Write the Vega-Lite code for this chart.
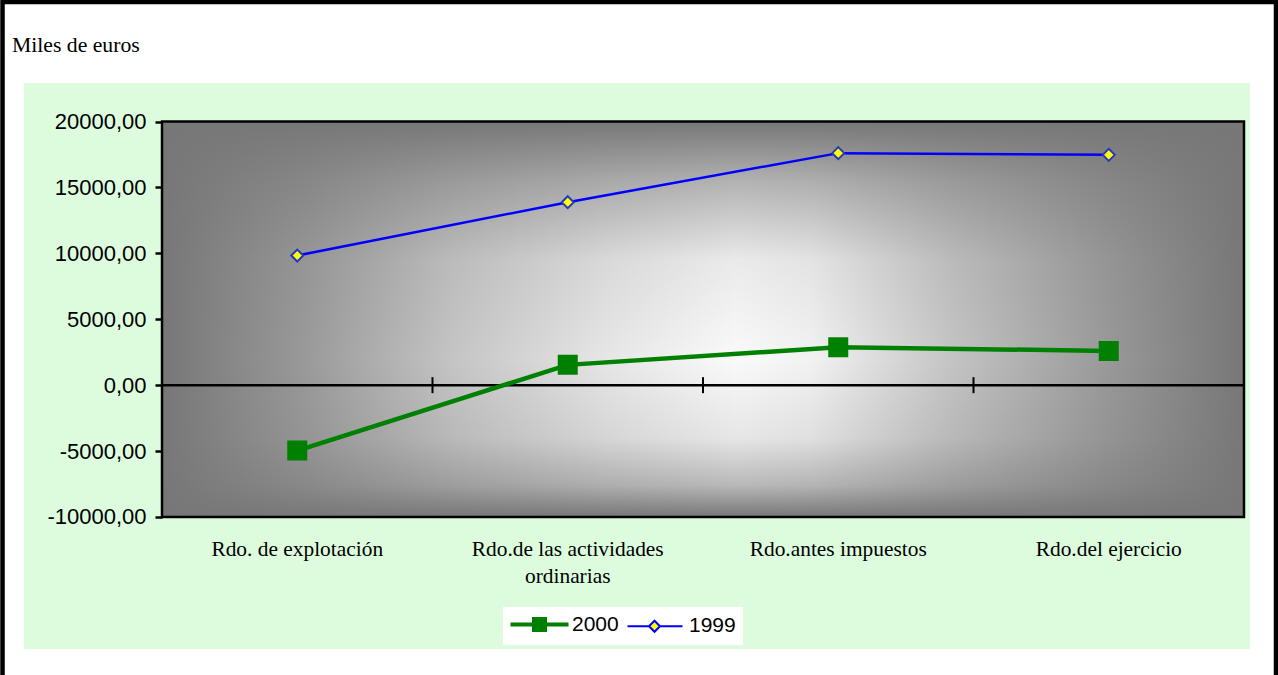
{
  "$schema": "https://vega.github.io/schema/vega-lite/v6.json",
  "width": 1226,
  "height": 566,
  "autosize": {"type": "none"},
  "padding": {"left": 24, "top": 83, "right": 28, "bottom": 26},
  "background": "#ffffff",
  "title": {"text": "Miles de euros", "anchor": "start", "frame": "group", "dx": -12, "dy": 104, "offset": 30, "baseline": "alphabetic", "font": "Liberation Serif", "fontSize": 21.7, "fontWeight": "normal", "color": "#000000"},
  "data": {"values": [
    {"categoria": "Rdo. de explotación", "serie": "2000", "valor": -4960},
    {"categoria": "Rdo.de las actividades ordinarias", "serie": "2000", "valor": 1540},
    {"categoria": "Rdo.antes impuestos", "serie": "2000", "valor": 2880},
    {"categoria": "Rdo.del ejercicio", "serie": "2000", "valor": 2600},
    {"categoria": "Rdo. de explotación", "serie": "1999", "valor": 9830},
    {"categoria": "Rdo.de las actividades ordinarias", "serie": "1999", "valor": 13880},
    {"categoria": "Rdo.antes impuestos", "serie": "1999", "valor": 17600},
    {"categoria": "Rdo.del ejercicio", "serie": "1999", "valor": 17470}
  ]},
  "layer": [
    {
      "data": {"values": [{}]},
      "layer": [
        {
          "mark": {"type": "rect", "filled": false, "stroke": "#000000", "strokeWidth": 4.5},
          "encoding": {
            "x": {"datum": -1.0896, "type": "quantitative", "scale": {"domain": [-1.0102, 3.5222], "nice": false, "zero": false}, "axis": null},
            "x2": {"datum": 3.6183},
            "y": {"datum": 29066, "type": "quantitative", "scale": {"domain": [-20015, 22921], "nice": false, "zero": false}},
            "y2": {"datum": -24500}
          }
        },
        {
          "mark": {"type": "rect", "fill": {"gradient": "linear", "x1": 0, "y1": 0, "x2": 1, "y2": 0, "stops": [
            {"offset": 0, "color": "#777777"}, {"offset": 0.13, "color": "#999999"}, {"offset": 0.27, "color": "#c5c5c5"},
            {"offset": 0.41, "color": "#e6e6e6"}, {"offset": 0.53, "color": "#fafafa"}, {"offset": 0.6, "color": "#f2f2f2"},
            {"offset": 0.73, "color": "#c4c4c4"}, {"offset": 0.87, "color": "#9a9a9a"}, {"offset": 1, "color": "#777777"}]}},
          "encoding": {
            "x": {"datum": -0.5, "type": "quantitative", "scale": {"domain": [-1.0102, 3.5222], "nice": false, "zero": false}, "axis": null},
            "x2": {"datum": 3.5},
            "y": {"datum": -10000, "type": "quantitative", "scale": {"domain": [-20015, 22921], "nice": false, "zero": false}},
            "y2": {"datum": 20000}
          }
        },
        {
          "mark": {"type": "rect", "stroke": "#000000", "strokeWidth": 2.5, "fill": {"gradient": "linear", "x1": 0, "y1": 0, "x2": 0, "y2": 1, "stops": [
            {"offset": 0, "color": "rgba(119,119,119,1)"}, {"offset": 0.15, "color": "rgba(119,119,119,0.55)"},
            {"offset": 0.35, "color": "rgba(119,119,119,0.12)"}, {"offset": 0.6, "color": "rgba(119,119,119,0)"},
            {"offset": 0.8, "color": "rgba(119,119,119,0.15)"}, {"offset": 0.92, "color": "rgba(119,119,119,0.5)"},
            {"offset": 1, "color": "rgba(119,119,119,1)"}]}},
          "encoding": {
            "x": {"datum": -0.5, "type": "quantitative", "scale": {"domain": [-1.0102, 3.5222], "nice": false, "zero": false}, "axis": null},
            "x2": {"datum": 3.5},
            "y": {"datum": -10000, "type": "quantitative", "scale": {"domain": [-20015, 22921], "nice": false, "zero": false}},
            "y2": {"datum": 20000}
          }
        },
        {
          "mark": {"type": "rule", "stroke": "#000000", "strokeWidth": 2.5},
          "encoding": {
            "x": {"datum": -0.5, "type": "quantitative", "scale": {"domain": [-1.0102, 3.5222], "nice": false, "zero": false}, "axis": null},
            "x2": {"datum": 3.5},
            "y": {"datum": 0, "type": "quantitative", "scale": {"domain": [-20015, 22921], "nice": false, "zero": false}}
          }
        }
      ]
    },
    {
      "layer": [
        {
          "transform": [{"filter": "datum.serie === '2000'"}],
          "mark": {"type": "tick", "orient": "vertical", "color": "#000000", "thickness": 2, "size": 16, "opacity": 1},
          "encoding": {
            "x": {"field": "categoria", "type": "nominal", "sort": null, "bandPosition": 1,
                  "scale": {"type": "band", "paddingInner": 0, "paddingOuter": 0.26617, "align": 0.9583}},
            "y": {"datum": 0, "type": "quantitative", "scale": {"domain": [-20015, 22921], "nice": false, "zero": false}}
          }
        },
        {
          "mark": {"type": "line"},
          "encoding": {
            "x": {"field": "categoria", "type": "nominal", "sort": null,
                  "scale": {"type": "band", "paddingInner": 0, "paddingOuter": 0.26617, "align": 0.9583},
                  "axis": {"orient": "bottom", "offset": -132, "domain": false, "ticks": false, "tickSize": 0, "labelPadding": 21,
                           "labelAlign": "center", "labelBaseline": "top",
                           "labelFont": "Liberation Serif", "labelFontSize": 21.4, "labelColor": "#000000", "labelLineHeight": 27.5,
                           "labelLimit": 400, "labelAngle": 0, "title": null, "grid": false,
                           "labelExpr": "datum.label == 'Rdo.de las actividades ordinarias' ? ['Rdo.de las actividades', 'ordinarias'] : datum.label"}},
            "y": {"field": "valor", "type": "quantitative",
                  "scale": {"domain": [-20015, 22921], "nice": false, "zero": false},
                  "axis": {"orient": "left", "offset": -138, "values": [-10000, -5000, 0, 5000, 10000, 15000, 20000],
                           "labelExpr": "replace(replace(format(datum.value, '.2f'), '.', ','), '\u2212', '-')",
                           "domain": false, "grid": false, "tickColor": "#000000", "tickWidth": 2.5, "tickSize": 7, "labelPadding": 9,
                           "labelFont": "Liberation Sans", "labelFontSize": 22, "labelColor": "#000000", "title": null}},
            "color": {"field": "serie", "type": "nominal",
                      "scale": {"domain": ["2000", "1999"], "range": ["#008000", "#0000ff"]},
                      "legend": {"orient": "none", "legendX": 479, "legendY": 524, "direction": "horizontal", "title": null,
                                 "fillColor": "#ffffff", "padding": 7, "labelFont": "Liberation Sans", "labelFontSize": 21,
                                 "labelColor": "#000000", "symbolSize": 400, "labelOffset": 41, "columnPadding": 4,
                                 "encode": {"symbols": {"update": {
                                   "shape": {"signal": "datum.value === '2000' ? 'M-1,0L4.8,0M1.35,-0.55L2.45,-0.55L2.45,0.55L1.35,0.55Z' : 'M-1,0L1.15,0M2.25,0L4.5,0M1.7,-0.55L2.25,0L1.7,0.55L1.15,0Z'"},
                                   "fill": {"signal": "datum.value === '2000' ? '#008000' : '#ffff00'"},
                                   "stroke": {"signal": "datum.value === '2000' ? '#008000' : '#0000ff'"},
                                   "strokeWidth": {"signal": "datum.value === '2000' ? 4 : 2"},
                                   "opacity": {"value": 1}, "fillOpacity": {"value": 1}, "strokeOpacity": {"value": 1}
                                 }}}}},
            "strokeWidth": {"condition": {"test": "datum.serie === '2000'", "value": 4.5}, "value": 2.5}
          }
        },
        {
          "mark": {"type": "point", "filled": true, "opacity": 1, "strokeWidth": 2},
          "encoding": {
            "x": {"field": "categoria", "type": "nominal", "sort": null,
                  "scale": {"type": "band", "paddingInner": 0, "paddingOuter": 0.26617, "align": 0.9583}},
            "y": {"field": "valor", "type": "quantitative", "scale": {"domain": [-20015, 22921], "nice": false, "zero": false}},
            "shape": {"condition": {"test": "datum.serie === '2000'", "value": "square"}, "value": "diamond"},
            "size": {"condition": {"test": "datum.serie === '2000'", "value": 324}, "value": 144},
            "fill": {"condition": {"test": "datum.serie === '2000'", "value": "#008000"}, "value": "#ffff00"},
            "stroke": {"condition": {"test": "datum.serie === '2000'", "value": "#008000"}, "value": "#2438c0"}
          }
        }
      ]
    }
  ],
  "resolve": {"scale": {"x": "independent"}, "axis": {"x": "independent"}},
  "config": {"view": {"fill": "#ddfcdd", "stroke": null}}
}
